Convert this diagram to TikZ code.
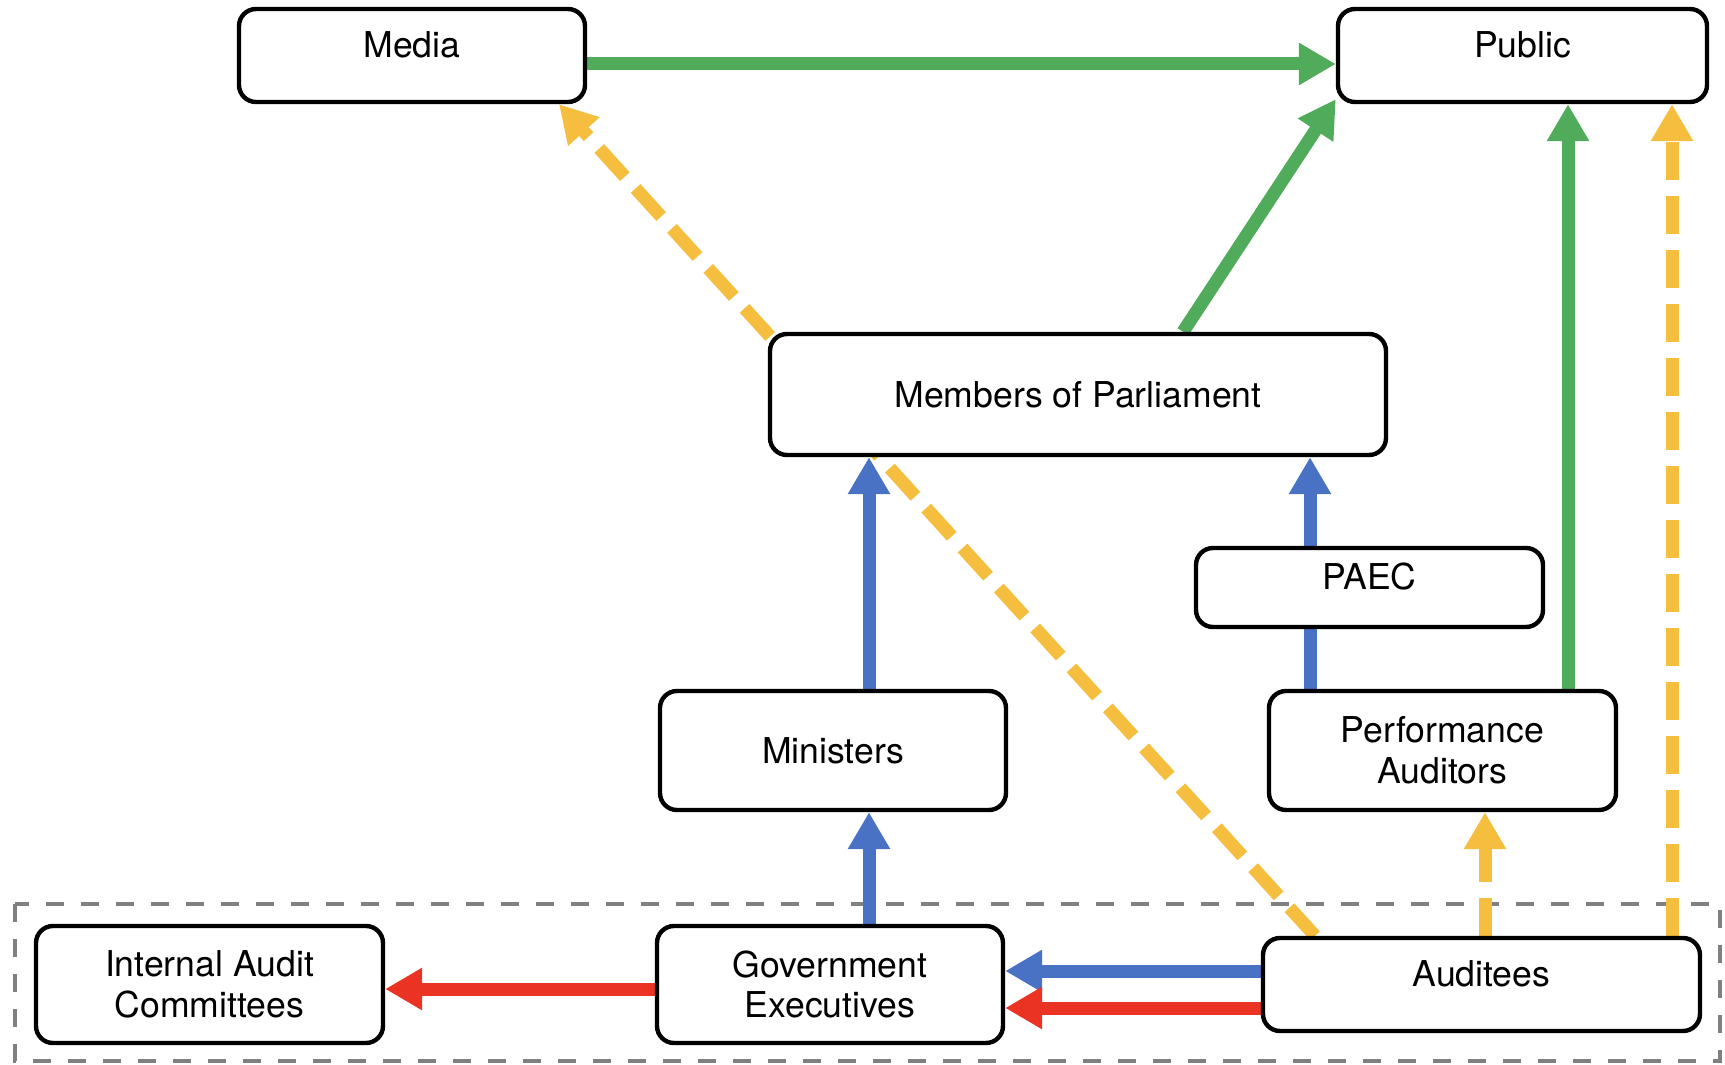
\documentclass[tikz,border=0pt]{standalone}
\usepackage{fontspec}
\setmainfont{TeX Gyre Heros}
\usetikzlibrary{arrows.meta,backgrounds}

\definecolor{infogreen}{RGB}{80,172,90}
\definecolor{reportblue}{RGB}{74,114,196}
\definecolor{escalred}{RGB}{234,51,35}
\definecolor{auditgold}{RGB}{246,190,62}
\definecolor{framegray}{RGB}{128,128,128}

\begin{document}
\begin{tikzpicture}[x=0.5pt,y=-0.5pt,
  box/.style={draw=black,line width=2.2pt,rounded corners=8.5pt,fill=white,
    align=center,inner sep=0pt,font=\fontsize{17.8}{20.4}\selectfont},
  topbox/.style={box,text height=12pt,text depth=10pt},
  flow/.style={line width=6.5pt,-{Triangle[length=18.5pt,width=20pt]}},
  inform/.style={flow,draw=infogreen},
  report/.style={flow,draw=reportblue},
  escalate/.style={flow,draw=escalred},
  disclose/.style={flow,draw=auditgold,dash pattern=on 19pt off 8pt},
  groupframe/.style={draw=framegray,line width=2pt,dash pattern=on 9pt off 8.5pt}
]
\useasboundingbox (0,0) rectangle (1725,1065);

% boxes
\node[topbox,minimum width=173pt,minimum height=46.5pt] (media) at (412,55.5) {Media};
\node[topbox,minimum width=184.5pt,minimum height=46.5pt] (public) at (1522.5,55.5) {Public};
\node[box,minimum width=308pt,minimum height=60.5pt] (mop) at (1078,394.5) {Members of Parliament};
\node[topbox,minimum width=173.5pt,minimum height=39.5pt] (paec) at (1369.5,587.5) {PAEC};
\node[box,minimum width=173pt,minimum height=59.5pt] (ministers) at (833,750.5) {Ministers};
\node[box,minimum width=173.5pt,minimum height=59.5pt] (perf) at (1442.5,750.5) {Performance\\Auditors};
\node[box,minimum width=173.5pt,minimum height=58.5pt] (iac) at (209.5,984.5) {Internal Audit\\Committees};
\node[box,minimum width=173pt,minimum height=58.5pt] (gov) at (830,984.5) {Government\\Executives};
\node[topbox,minimum width=218.5pt,minimum height=46.5pt] (auditees) at (1481.5,984.5) {Auditees};

% lanes for the connectors
\coordinate (xMinisters) at (869,0);
\coordinate (xPaec) at (1310,0);
\coordinate (xPerfUp) at (1485,0);
\coordinate (xPublicG) at (1568,0);
\coordinate (xPublicY) at (1672,0);
\coordinate (xMopOut) at (1183,0);
\coordinate (xAudOut) at (1315,0);
\coordinate (xMediaIn) at (559,0);
\coordinate (yMedia) at (0,64);
\coordinate (yBlue) at (0,971);
\coordinate (yRed) at (0,1008);
\coordinate (yIac) at (0,989);

\begin{scope}[on background layer]
  \draw[groupframe] (15,904) rectangle (1720,1061);

  \draw[inform] (media.east |- yMedia) -- (public.west |- yMedia);
  \draw[inform] (mop.north -| xMopOut) -- ([yshift=2.5pt]public.south west);
  \draw[inform] (perf.north -| xPublicG) -- (public.south -| xPublicG);

  \draw[disclose] (auditees.north -| xPublicY) -- (public.south -| xPublicY);
  \draw[disclose] (auditees.north -| xAudOut) -- (media.south -| xMediaIn);
  \draw[disclose] (auditees.north -| xPerfUp) -- (perf.south -| xPerfUp);

  \draw[report] (ministers.north -| xMinisters) -- (mop.south -| xMinisters);
  \draw[report] (gov.north -| xMinisters) -- (ministers.south -| xMinisters);
  \draw[report] (perf.north -| xPaec) -- (mop.south -| xPaec);
  \draw[report] (auditees.west |- yBlue) -- (gov.east |- yBlue);

  \draw[escalate] (auditees.west |- yRed) -- (gov.east |- yRed);
  \draw[escalate] (gov.west |- yIac) -- (iac.east |- yIac);
\end{scope}
\end{tikzpicture}
\end{document}
